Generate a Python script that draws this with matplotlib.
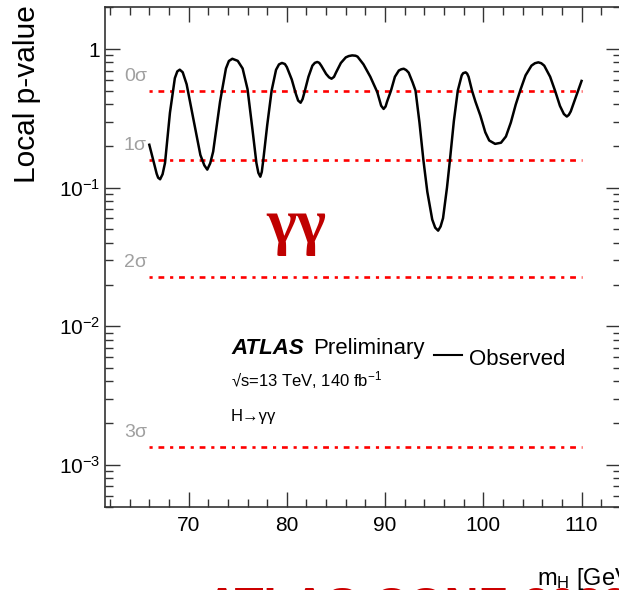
import numpy as np
import matplotlib
matplotlib.use("Agg")
import matplotlib.pyplot as plt
from matplotlib.ticker import LogLocator, FixedLocator, MultipleLocator, NullFormatter

plt.rcParams['font.family'] = ['Liberation Sans', 'DejaVu Sans']
plt.rcParams['mathtext.fontset'] = 'custom'
plt.rcParams['mathtext.rm'] = 'Liberation Sans'
plt.rcParams['mathtext.it'] = 'Liberation Sans:italic'

# observed local p-value vs m_H
mass = [66.0, 66.4, 66.75, 66.9, 67.1, 67.35, 67.6, 68.1, 68.6, 68.85, 69.1, 69.4,
        69.8, 70.5, 71.2, 71.6, 71.9, 72.2, 72.5, 73.2, 73.8, 74.1, 74.45, 75.0,
        75.5, 76.0, 76.5, 76.9, 77.1, 77.3, 77.45, 77.6, 78.0, 78.45, 78.9, 79.2,
        79.5, 79.8, 80.0, 80.5, 80.9, 81.15, 81.4, 81.6, 81.8, 82.2, 82.6, 82.85,
        83.1, 83.3, 83.5, 84.0, 84.3, 84.55, 84.8, 85.0, 85.5, 86.0, 86.3, 86.65,
        87.0, 87.2, 87.8, 88.5, 89.2, 89.6, 89.85, 90.05, 90.2, 90.6, 91.0, 91.4,
        91.65, 91.9, 92.15, 92.4, 92.8, 93.1, 93.5, 93.9, 94.3, 94.8, 95.1, 95.4,
        95.65, 95.9, 96.3, 96.6, 97.0, 97.4, 97.8, 97.95, 98.2, 98.35, 98.5, 98.85,
        99.2, 99.7, 100.2, 100.6, 101.2, 101.8, 102.3, 102.8, 103.3, 103.8, 104.3,
        104.9, 105.25, 105.6, 105.9, 106.2, 106.8, 107.3, 107.8, 108.2, 108.5, 108.7,
        108.9, 109.3, 109.7, 110.0]
pval = [0.204, 0.158, 0.126, 0.118, 0.115, 0.125, 0.151, 0.347, 0.617, 0.690, 0.710, 0.680,
        0.557, 0.309, 0.172, 0.145, 0.135, 0.150, 0.182, 0.417, 0.724, 0.820, 0.851, 0.822,
        0.724, 0.513, 0.263, 0.151, 0.128, 0.120, 0.130, 0.158, 0.282, 0.501, 0.708, 0.775,
        0.794, 0.780, 0.741, 0.603, 0.479, 0.425, 0.410, 0.435, 0.490, 0.631, 0.759, 0.795,
        0.807, 0.795, 0.759, 0.661, 0.625, 0.611, 0.630, 0.676, 0.794, 0.871, 0.890, 0.900,
        0.895, 0.881, 0.776, 0.631, 0.490, 0.390, 0.370, 0.385, 0.417, 0.501, 0.631, 0.700,
        0.715, 0.721, 0.705, 0.676, 0.575, 0.501, 0.295, 0.158, 0.0933, 0.0589, 0.0515, 0.0490,
        0.0525, 0.0603, 0.100, 0.158, 0.302, 0.501, 0.646, 0.670, 0.679, 0.665, 0.631, 0.501,
        0.417, 0.331, 0.251, 0.219, 0.207, 0.211, 0.234, 0.295, 0.398, 0.513, 0.646,
        0.759, 0.790, 0.802, 0.790, 0.759, 0.631, 0.501, 0.389, 0.340, 0.326, 0.335,
        0.355, 0.427, 0.513, 0.589]

sigma_labels = ["0σ", "1σ", "2σ", "3σ"]
sigma_pvals = [0.5, 0.1587, 0.02275, 0.00135]
mass_range = [66, 110]

fig = plt.figure(figsize=(6.19, 5.90), dpi=100)
ax = fig.add_axes([0.169, 0.1412, 0.834, 0.8464])

for lab, p in zip(sigma_labels, sigma_pvals):
    ax.plot(mass_range, [p, p], color="#ff0000", lw=1.9,
            dashes=(1.2, 2.2, 2.2, 2.2), dash_capstyle="butt")
    ax.annotate(lab, (63.4, p), xytext=(0, 4), textcoords="offset points",
                ha="left", va="bottom", fontsize=14, color="#a0a0a0")

ax.plot(mass, pval, color="black", lw=1.8, solid_joinstyle="round")

ax.set_yscale("log")
ax.set_xlim(61.45, 114.0)
ax.set_ylim(5e-4, 2.0)

ax.xaxis.set_major_locator(MultipleLocator(10))
ax.xaxis.set_minor_locator(MultipleLocator(2))
ax.yaxis.set_major_locator(FixedLocator([1e-3, 1e-2, 1e-1, 1]))
ax.yaxis.set_minor_locator(LogLocator(base=10, subs=np.arange(2, 10), numticks=20))
ax.yaxis.set_minor_formatter(NullFormatter())
ax.set_yticklabels(["$10^{-3}$", "$10^{-2}$", "$10^{-1}$", "1"])

ax.tick_params(which="both", direction="in", top=True, right=True,
               labelsize=15, width=1.0, color="#333333")
ax.tick_params(which="major", length=11)
ax.tick_params(which="minor", length=5.5)
ax.tick_params(axis="x", pad=7)
ax.tick_params(axis="y", pad=3)
for s in ax.spines.values():
    s.set_linewidth(1.2)
    s.set_color("#333333")

# slide title, mostly below the crop
fig.text(205 / 619, -30 / 590, "ATLAS-CONF-2023-035", fontsize=34, color="#cc0000",
         fontweight="bold", va="baseline", zorder=1)

fig.text(27 / 619, 1 - 5 / 590, "Local p-value", rotation=90, ha="center",
         va="top", fontsize=21.5)
fig.text(537 / 619, 5 / 590, "m$_{\\mathrm{H}}$ [GeV]", ha="left", va="baseline",
         fontsize=17, zorder=3)

ax.text(0.245, 0.305, "ATLAS", transform=ax.transAxes, fontsize=16,
        fontweight="bold", fontstyle="italic")
ax.text(0.404, 0.305, "Preliminary", transform=ax.transAxes, fontsize=16)
ax.text(0.245, 0.24, "√s=13 TeV, 140 fb$^{-1}$", transform=ax.transAxes,
        fontsize=12)
ax.text(0.245, 0.172, "H→γγ", transform=ax.transAxes, fontsize=12)
ax.plot([0.638, 0.693], [0.303, 0.303], transform=ax.transAxes, color="black", lw=1.5)
ax.text(0.706, 0.283, "Observed", transform=ax.transAxes, fontsize=16)

fig.text(266 / 619, 1 - 242 / 590, "γγ", fontsize=46, color="#c00000",
         family="Liberation Serif", fontweight="bold")

fig.savefig("out.png", dpi=100)
